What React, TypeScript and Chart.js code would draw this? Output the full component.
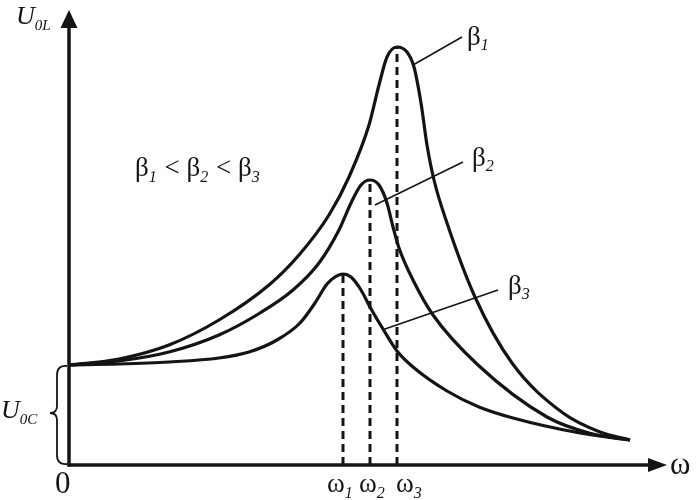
import React, { useEffect, useRef } from "react";
import { Chart, registerables } from "chart.js";

Chart.register(...registerables);

// Frequency ω (arbitrary units) and amplitude U0L (arbitrary units)
const beta1Omega = [0, 0.5, 1.0, 1.5, 2.0, 2.3, 2.6, 2.8, 3.0, 3.1, 3.18, 3.28, 3.38, 3.45, 3.52, 3.58, 3.65, 3.78, 4.06, 4.43, 4.94, 5.31, 5.61];
const beta1U = [1.0, 1.06, 1.2, 1.45, 1.8, 2.1, 2.5, 2.88, 3.4, 3.8, 4.08, 4.18, 4.13, 3.98, 3.62, 3.2, 2.85, 2.42, 1.68, 1.02, 0.52, 0.33, 0.25];

const beta2Omega = [0, 0.5, 1.0, 1.5, 1.91, 2.24, 2.5, 2.7, 2.82, 2.92, 3.01, 3.1, 3.18, 3.24, 3.3, 3.45, 3.64, 4.09, 4.78, 5.2, 5.61];
const beta2U = [1.0, 1.04, 1.13, 1.3, 1.52, 1.75, 2.02, 2.35, 2.62, 2.8, 2.85, 2.8, 2.62, 2.38, 2.17, 1.83, 1.5, 1.0, 0.48, 0.32, 0.25];

const beta3Omega = [0, 0.5, 1.0, 1.5, 1.8, 2.08, 2.31, 2.46, 2.58, 2.66, 2.74, 2.82, 2.92, 3.01, 3.14, 3.28, 3.44, 3.78, 4.1, 4.44, 5.11, 5.61];
const beta3U = [1.0, 1.01, 1.03, 1.07, 1.13, 1.25, 1.42, 1.62, 1.81, 1.88, 1.91, 1.88, 1.75, 1.58, 1.36, 1.14, 0.98, 0.74, 0.58, 0.47, 0.32, 0.25];

// resonance frequencies ω1, ω2, ω3 and the peak heights
const resonanceOmega = [2.74, 3.01, 3.28];
const resonancePeak = [1.91, 2.85, 4.18];
const resonanceLabels = ["1", "2", "3"];

// leader lines for the β labels
const leader1Omega = [3.44, 3.93];
const leader1U = [4.0, 4.28];
const leader2Omega = [3.06, 3.94];
const leader2U = [2.6, 3.03];
const leader3Omega = [3.13, 4.29];
const leader3U = [1.35, 1.75];

const U0C = 1.0;
const X_MAX = 5.98;
const Y_MAX = 4.55;

const toPoints = (xs: number[], ys: number[]) => xs.map((x, i) => ({ x, y: ys[i] }));

type Seg = [string, boolean];
function drawRich(ctx: CanvasRenderingContext2D, segs: Seg[], x: number, y: number, mainFont: string, subFont: string, subDy: number) {
  let cx = x;
  for (const [t, sub] of segs) {
    ctx.font = sub ? subFont : mainFont;
    ctx.fillText(t, cx, sub ? y + subDy : y);
    cx += ctx.measureText(t).width + (sub ? 1 : 0);
  }
}

const overlay = {
  id: "overlay",
  afterDatasetsDraw(chart: any) {
    const { ctx, scales } = chart;
    const px = (v: number) => scales.x.getPixelForValue(v);
    const py = (v: number) => scales.y.getPixelForValue(v);
    const ink = "#141414";
    ctx.save();
    ctx.strokeStyle = ink;
    ctx.fillStyle = ink;
    ctx.lineWidth = 3.5;
    ctx.lineCap = "butt";
    const x0 = px(0);
    const y0 = py(0);
    const yTop = py(Y_MAX);
    const xEnd = px(X_MAX);
    // y axis
    ctx.beginPath();
    ctx.moveTo(x0, y0 + 1.5);
    ctx.lineTo(x0, yTop + 14);
    ctx.stroke();
    ctx.beginPath();
    ctx.moveTo(x0, yTop);
    ctx.lineTo(x0 - 8.5, yTop + 18);
    ctx.lineTo(x0 + 8.5, yTop + 18);
    ctx.closePath();
    ctx.fill();
    // x axis
    ctx.beginPath();
    ctx.moveTo(x0 - 1.5, y0);
    ctx.lineTo(xEnd - 14, y0);
    ctx.stroke();
    ctx.beginPath();
    ctx.moveTo(xEnd, y0);
    ctx.lineTo(xEnd - 19, y0 - 7);
    ctx.lineTo(xEnd - 19, y0 + 7);
    ctx.closePath();
    ctx.fill();

    // brace for U0C
    const bTop = py(U0C) + 1;
    const bBot = y0 - 1;
    const bMid = (bTop + bBot) / 2 - 2;
    const bx = x0 - 12;
    ctx.lineWidth = 1.8;
    ctx.beginPath();
    ctx.moveTo(x0 - 2, bTop);
    ctx.quadraticCurveTo(bx, bTop - 1, bx, bTop + 9);
    ctx.lineTo(bx, bMid - 7);
    ctx.quadraticCurveTo(bx, bMid, bx - 7, bMid);
    ctx.quadraticCurveTo(bx, bMid, bx, bMid + 7);
    ctx.lineTo(bx, bBot - 9);
    ctx.quadraticCurveTo(bx, bBot + 1, x0 - 2, bBot);
    ctx.stroke();

    const serif = '"Liberation Serif", "Times New Roman", serif';
    ctx.textBaseline = "alphabetic";
    ctx.textAlign = "left";
    // axis titles
    drawRich(ctx, [["U", false], ["0L", true]], px(-0.53), py(4.41), `italic 26px ${serif}`, `italic 15px ${serif}`, 6);
    drawRich(ctx, [["U", false], ["0C", true]], px(-0.68), py(0.47), `italic 26px ${serif}`, `italic 15px ${serif}`, 6);
    ctx.font = `31px ${serif}`;
    ctx.fillText("0", px(-0.14), py(-0.28));
    ctx.font = `31px ${serif}`;
    ctx.fillText("ω", px(X_MAX) + 3, y0 + 9);

    // resonance labels
    const lefts = [-0.16, -0.11, -0.01];
    resonanceOmega.forEach((w, i) => {
      drawRich(ctx, [["ω", false], [resonanceLabels[i], true]], px(w + lefts[i]), py(-0.27), `27px ${serif}`, `italic 16px ${serif}`, 6);
    });

    // beta labels
    const bMain = `27px ${serif}`;
    const bSub = `italic 16px ${serif}`;
    drawRich(ctx, [["β", false], ["1", true]], px(3.98), py(4.2), bMain, bSub, 5);
    drawRich(ctx, [["β", false], ["2", true]], px(4.03), py(2.99), bMain, bSub, 5);
    drawRich(ctx, [["β", false], ["3", true]], px(4.39), py(1.71), bMain, bSub, 5);
    drawRich(
      ctx,
      [["β", false], ["1", true], [" < ", false], ["β", false], ["2", true], [" < ", false], ["β", false], ["3", true]],
      px(0.66),
      py(2.89),
      bMain,
      bSub,
      6
    );
    ctx.restore();
  },
};

export default function App() {
  const ref = useRef<HTMLCanvasElement | null>(null);
  useEffect(() => {
    if (!ref.current) return;
    const curve = (xs: number[], ys: number[]) => ({
      data: toPoints(xs, ys),
      borderColor: "#141414",
      borderWidth: 3.2,
      pointRadius: 0,
      cubicInterpolationMode: "monotone" as const,
      fill: false,
      clip: false as any,
    });
    const thin = (xs: number[], ys: number[]) => ({
      data: toPoints(xs, ys),
      borderColor: "#141414",
      borderWidth: 1.6,
      pointRadius: 0,
      tension: 0,
      fill: false,
      clip: false as any,
    });
    const dashed = resonanceOmega.map((w, i) => ({
      data: [
        { x: w, y: 0 },
        { x: w, y: resonancePeak[i] },
      ],
      borderColor: "#141414",
      borderWidth: 3,
      borderDash: [8, 5],
      pointRadius: 0,
      tension: 0,
      fill: false,
      clip: false as any,
    }));
    const chart = new Chart(ref.current, {
      type: "line",
      data: {
        datasets: [
          ...dashed,
          curve(beta1Omega, beta1U),
          curve(beta2Omega, beta2U),
          curve(beta3Omega, beta3U),
          thin(leader1Omega, leader1U),
          thin(leader2Omega, leader2U),
          thin(leader3Omega, leader3U),
        ] as any,
      },
      options: {
        animation: false,
        responsive: false,
        maintainAspectRatio: false,
        layout: { padding: { left: 69, right: 29, top: 10, bottom: 35 } },
        plugins: { legend: { display: false }, tooltip: { enabled: false } },
        scales: {
          x: { type: "linear", min: 0, max: X_MAX, display: false },
          y: { type: "linear", min: 0, max: Y_MAX, display: false },
        },
      },
      plugins: [overlay],
    });
    return () => chart.destroy();
  }, []);
  return (
    <div style={{ position: "fixed", left: 0, top: 0, width: 696, height: 500, background: "#fff" }}>
      <canvas ref={ref} width={696} height={500} />
    </div>
  );
}
